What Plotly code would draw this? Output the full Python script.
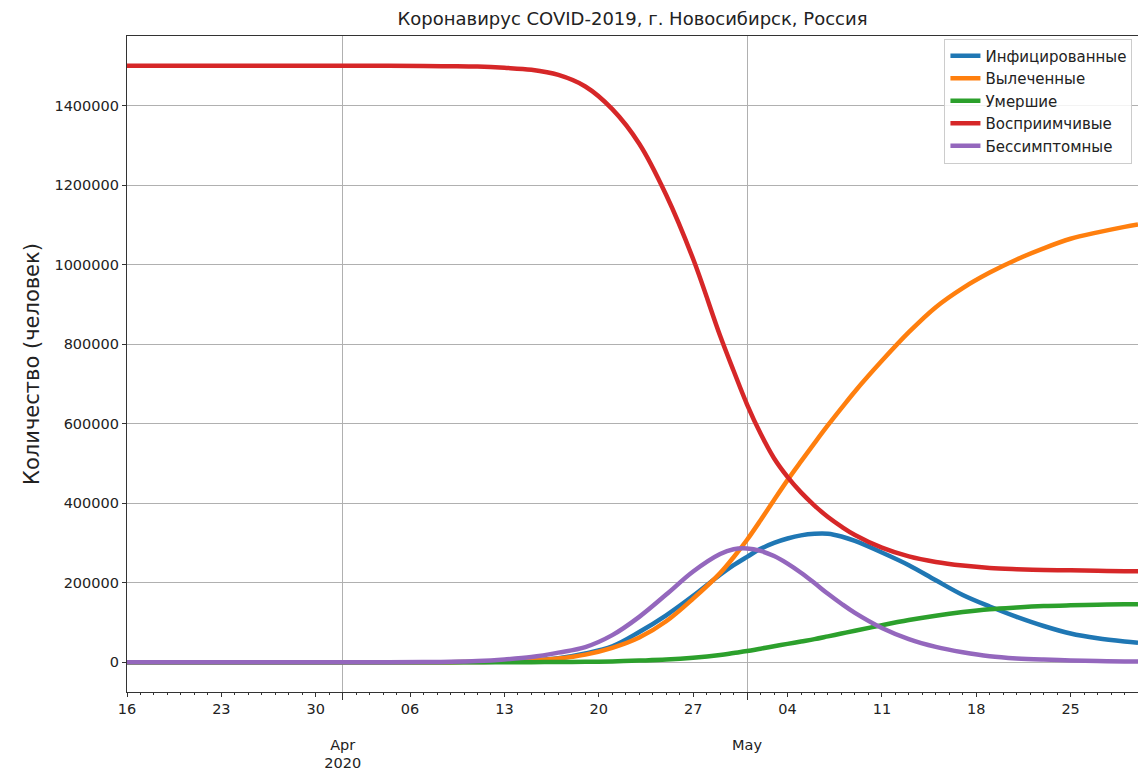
import plotly.graph_objects as go
import pandas as pd

# ---- data ----
start_date = "2020-03-16"
days = [0, 7, 14, 18, 22, 24, 26, 28, 30, 32, 34, 36, 38, 40, 42, 44, 45, 46, 47, 48, 49, 50, 51, 52,
        53, 54, 56, 58, 60, 62, 64, 66, 68, 70, 72, 74, 75]

infected = [0, 0, 0, 0, 0, 0, 500, 1500, 4500, 10000, 22000, 40000, 76000, 118000, 167000, 220000,
            244000, 265000, 285000, 300000, 311000, 319000, 323000, 323000,
            316000, 305000, 276000, 244000, 206000, 169000, 140000, 114000, 91000, 72000, 60000, 52000, 49000]

recovered = [0, 0, 0, 0, 0, 0, 500, 1500, 4000, 9000, 19000, 36000, 62000, 103000, 160000, 224000,
             264000, 308000, 357000, 408000, 458000, 505000, 551000, 596000,
             639000, 681000, 758000, 830000, 893000, 941000, 980000, 1013000, 1041000, 1065000, 1081000, 1095000, 1101000]

dead = [0, 0, 0, 0, 0, 0, 0, 0, 0, 500, 1000, 2000, 4000, 6500, 11000, 18000,
        23000, 28000, 34000, 40000, 46000, 52000, 58000, 65000,
        72000, 79000, 93000, 106000, 117000, 126000, 133000, 137500, 141000, 143000, 144500, 145500, 146000]

susceptible = [1500000, 1500000, 1500000, 1500000, 1499500, 1499000, 1498000, 1495000, 1490000,
               1477000, 1448000, 1391000, 1304000, 1175000, 1014000, 821000, 733000, 648000,
               575000, 513000, 466000, 427000, 394000, 365000, 341000, 320000, 288000, 266000,
               252000, 243000, 237000, 234000, 232000, 231000, 230000, 229000, 229000]

asymptomatic = [0, 0, 0, 0, 300, 1000, 3000, 7000, 13000, 24000, 38000, 68000, 114000, 170000, 228000,
                272000, 284000, 286000, 280000, 267000, 248000, 225000, 199000, 172000,
                147000, 124000, 86000, 58000, 38500, 25000, 15000, 9500, 6500, 4500, 3000, 2000, 1500]

series_names = ["Инфицированные", "Вылеченные", "Умершие", "Восприимчивые", "Бессимптомные"]
series_colors = ["#1f77b4", "#ff7f0e", "#2ca02c", "#d62728", "#9467bd"]

title_text = "Коронавирус COVID-2019, г. Новосибирск, Россия"
y_label = "Количество (человек)"
y_tick_values = [0, 200000, 400000, 600000, 800000, 1000000, 1200000, 1400000]
week_tick_labels = ["16", "23", "30", "06", "13", "20", "27", "04", "11", "18", "25"]
month_tick_dates = ["2020-04-01", "2020-05-01"]
month_tick_labels = ["Apr<br>2020", "May"]
x_range = ["2020-03-16", "2020-05-30"]
y_range = [-75000, 1575000]

# ---- build ----
dates = pd.to_datetime(start_date) + pd.to_timedelta(days, unit="D")
week_dates = pd.date_range("2020-03-16", periods=len(week_tick_labels), freq="7D")

font_family = "DejaVu Sans"
fig = go.Figure()
for name, vals, col in zip(series_names, [infected, recovered, dead, susceptible, asymptomatic],
                           series_colors):
    fig.add_trace(go.Scatter(x=dates, y=vals, mode="lines", name=name,
                             line=dict(color=col, width=4.5, shape="spline", smoothing=1.0),
                             xaxis="x", yaxis="y"))

# dummy trace so the weekly label axis is rendered
fig.add_trace(go.Scatter(x=x_range, y=[None, None], xaxis="x2", yaxis="y",
                         showlegend=False, hoverinfo="skip", mode="lines"))

axis_line = "#333333"
tick_size = 14.5
fig.update_layout(
    width=1138, height=770,
    paper_bgcolor="white", plot_bgcolor="white",
    margin=dict(l=127, r=0, t=36, b=78, autoexpand=False),
    font=dict(family=font_family, size=tick_size, color="#222222"),
    title=dict(text=title_text, x=0.5, xref="paper", xanchor="center",
               y=1 - 19 / 770, yref="container", yanchor="middle",
               font=dict(size=18, family=font_family, color="#222222")),
    showlegend=True,
    legend=dict(x=0.9945, y=0.996, xanchor="right", yanchor="top",
                bgcolor="rgba(255,255,255,0.85)", bordercolor="#cccccc", borderwidth=1,
                font=dict(size=15, family=font_family, color="#222222"),
                tracegroupgap=0, itemwidth=30),
    xaxis=dict(type="date", range=x_range, automargin=False,
               tickmode="array", tickvals=pd.to_datetime(month_tick_dates), ticktext=month_tick_labels,
               ticks="outside", ticklen=7, tickcolor=axis_line, tickwidth=1,
               ticklabelstandoff=32,
               showgrid=True, gridcolor="#b0b0b0", gridwidth=1,
               showline=True, linecolor=axis_line, linewidth=1.2, mirror=True,
               zeroline=False, tickfont=dict(size=tick_size)),
    xaxis2=dict(type="date", range=x_range, overlaying="x", anchor="y", side="bottom",
                automargin=False,
                tickmode="array", tickvals=week_dates, ticktext=week_tick_labels,
                ticks="outside", ticklen=4, tickcolor=axis_line,
                showgrid=False, showline=False, zeroline=False,
                tickfont=dict(size=tick_size),
                minor=dict(dtick=86400000, tick0="2020-03-16", ticks="outside", ticklen=2,
                           tickcolor=axis_line, showgrid=False)),
    yaxis=dict(range=y_range, tickmode="array", tickvals=y_tick_values, automargin=False,
               tickformat="d", ticks="outside", ticklen=4, tickcolor=axis_line,
               showgrid=True, gridcolor="#b0b0b0", gridwidth=1,
               showline=True, linecolor=axis_line, linewidth=1.2, mirror=True,
               zeroline=False, tickfont=dict(size=tick_size),
               title=dict(text=y_label, font=dict(size=21, family=font_family), standoff=9)),
)

fig.write_html("out.html", config={"displayModeBar": False},
               post_script="document.body.style.margin='0px';")
